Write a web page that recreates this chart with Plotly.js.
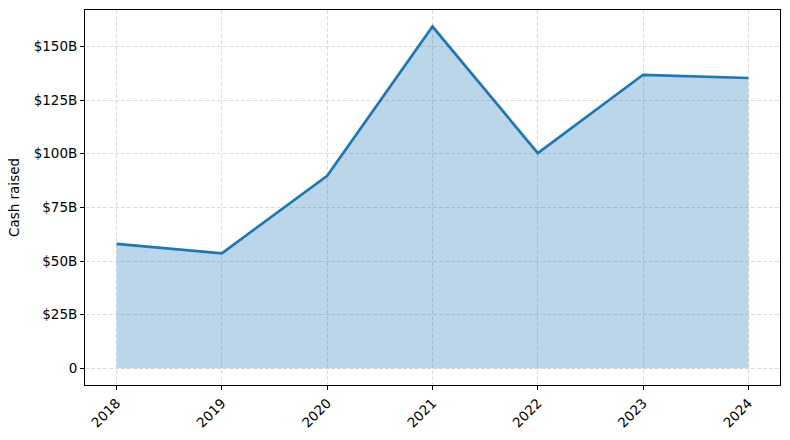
<!DOCTYPE html>
<html>
<head>
<meta charset="utf-8">
<script src="https://cdn.plot.ly/plotly-3.0.1.min.js"></script>
<style>
  html, body { margin: 0; padding: 0; background: #fff; }
  #chart { width: 790px; height: 440px; }
</style>
</head>
<body>
<div id="chart"></div>
<script>
// Cash raised per year, in $B
const years = [2018, 2019, 2020, 2021, 2022, 2023, 2024];
const cashRaised = [58.0, 53.6, 89.7, 159.3, 100.3, 136.8, 135.3];
const yTickVals = [0, 25, 50, 75, 100, 125, 150];
const yTickText = ['0', '$25B', '$50B', '$75B', '$100B', '$125B', '$150B'];

const blue = '#1f77b4';

const traces = [
  {
    x: years,
    y: cashRaised,
    type: 'scatter',
    mode: 'lines',
    fill: 'tozeroy',
    fillcolor: 'rgba(31,119,180,0.3)',
    line: { color: blue, width: 2.7 },
    hoverinfo: 'skip'
  }
];

const gridStyle = {
  showgrid: true,
  gridcolor: '#d3d3d3',
  griddash: '4px,2px',
  gridwidth: 0.8,
  zeroline: false,
  showline: true,
  mirror: true,
  linecolor: '#000',
  linewidth: 1,
  ticks: 'outside',
  ticklen: 4,
  tickcolor: '#000',
  tickfont: { family: 'DejaVu Sans', size: 13.5, color: '#000' },
  fixedrange: true
};

const layout = {
  width: 790,
  height: 440,
  margin: { l: 84.5, r: 9.7, t: 10.3, b: 55 },
  paper_bgcolor: '#fff',
  plot_bgcolor: '#fff',
  showlegend: false,
  font: { family: 'DejaVu Sans', size: 13, color: '#000' },
  xaxis: Object.assign({}, gridStyle, {
    range: [2017.7, 2024.3],
    tickvals: years,
    ticktext: years.map(String),
    tickangle: -45
  }),
  yaxis: Object.assign({}, gridStyle, {
    range: [-7.8, 167],
    tickvals: yTickVals,
    ticktext: yTickText,
    title: { text: 'Cash raised', font: { family: 'DejaVu Sans', size: 13.5 }, standoff: 10 }
  })
};

Plotly.newPlot('chart', traces, layout, { displayModeBar: false, staticPlot: true });
</script>
</body>
</html>
